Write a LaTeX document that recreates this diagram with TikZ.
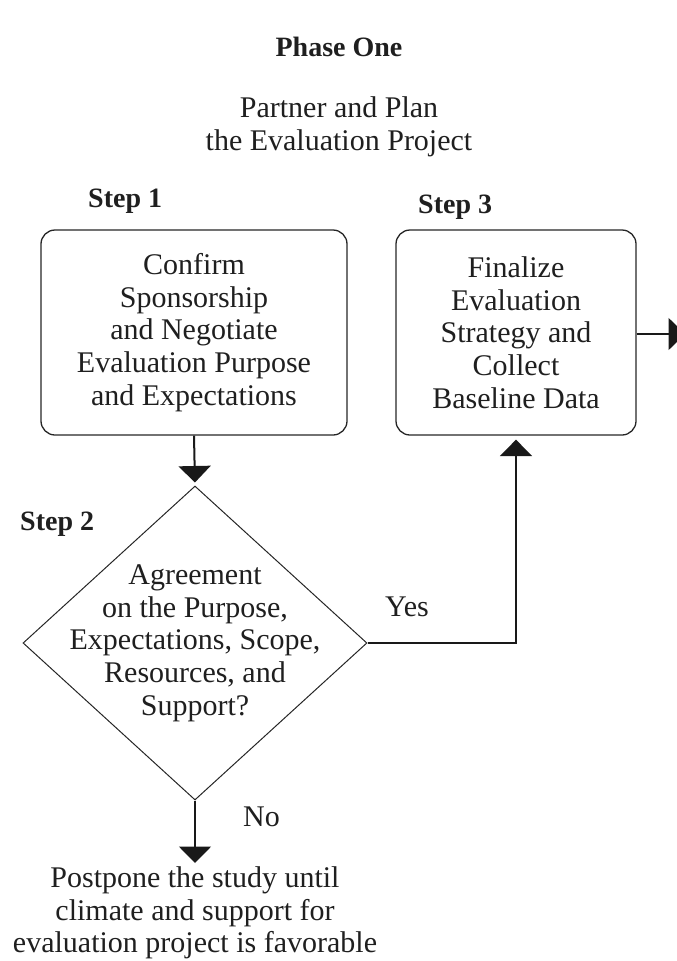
\documentclass[tikz,border=0pt]{standalone}
\usepackage{fontspec}
\setmainfont{Liberation Serif}
\usetikzlibrary{arrows.meta,shapes.geometric}
\begin{document}
\begin{tikzpicture}[x=1pt,y=-1pt,
  every node/.style={font=\fontsize{30}{32.7}\selectfont, align=center, inner sep=0pt, text=black!88},
  steplabel/.style={font=\fontsize{28}{30}\selectfont\bfseries, anchor=west},
  stepbox/.style={draw=black!85, rounded corners=14pt, line width=1.3pt},
  decision/.style={draw=black!85, diamond, line width=1pt, minimum width=344pt, minimum height=314pt},
  flow/.style={draw=black!90, line width=2pt, -{Triangle[width=32pt,length=16.5pt]}}
]
\useasboundingbox (0,0) rectangle (677,961);

% heading
\node[font=\fontsize{28}{30}\selectfont\bfseries] (phase) at (339,47) {Phase One};
\node (title) at (339,127) {Partner and Plan\\the Evaluation Project};

% step labels
\node[steplabel] (s1) at (88,201) {Step 1};
\node[steplabel] (s3) at (418,207) {Step 3};
\node[steplabel] (s2) at (20,524) {Step 2};

% process boxes
\node[stepbox, minimum width=306pt, minimum height=205pt] (confirm) at (194,332.5)
  {Confirm\\Sponsorship\\and Negotiate\\Evaluation Purpose\\and Expectations};
\node[stepbox, minimum width=240pt, minimum height=205pt] (finalize) at (516,332.5)
  {Finalize\\Evaluation\\Strategy and\\Collect\\Baseline Data};

% decision
\node[decision] (agree) at (195,643) {};
\node (agreetext) at (195,643)
  {Agreement\\on the Purpose,\\Expectations, Scope,\\Resources, and\\Support?};

\node[anchor=west] (yes) at (385,607) {Yes};
\node[anchor=west] (no) at (243,817) {No};

% outcome when there is no agreement
\node (postpone) at (195,913)
  {Postpone the study until\\climate and support for\\evaluation project is favorable};

\coordinate (onward) at (685,334);
\coordinate (halt) at (195,863);

% connectors
\draw[flow, shorten >=3pt] (confirm.south) -- (agree.north);
\draw[flow, shorten >=4pt] (agree.east) -| (finalize.south);
\draw[flow] (finalize.east |- onward) -- (onward);
\draw[flow] (agree.south) -- (halt);
\end{tikzpicture}
\end{document}
